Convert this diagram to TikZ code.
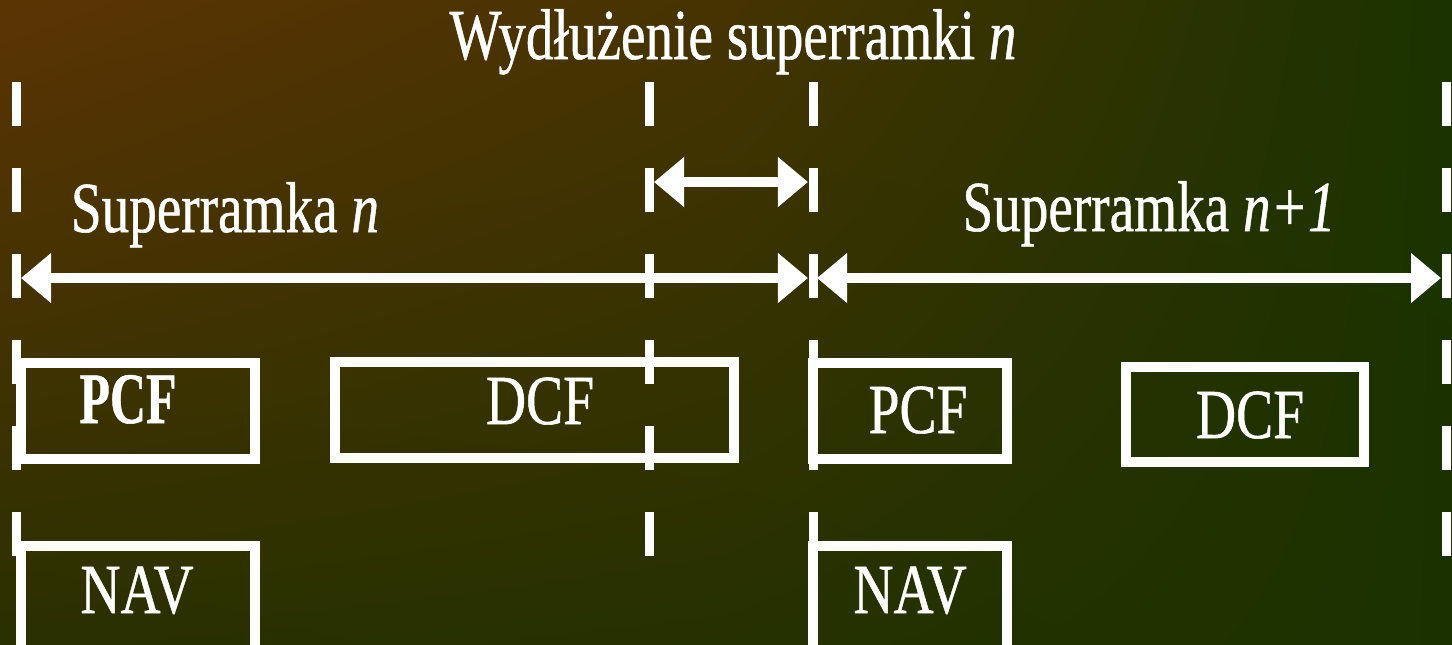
\documentclass[tikz,border=0pt]{standalone}
\usepackage{fontspec}
\setmainfont{Liberation Serif}[FakeBold=0.8]
\usetikzlibrary{arrows.meta,shadings}
\definecolor{tloA}{RGB}{92,52,4}
\definecolor{tloB}{RGB}{26,51,0}
\definecolor{tloC}{RGB}{42,48,0}
\definecolor{tloD}{RGB}{27,50,0}
\definecolor{tloM}{RGB}{70,51,2}
\definecolor{tloN}{RGB}{38,49,0}
\newcommand{\napis}[1]{{\fontsize{15.7pt}{18pt}\selectfont\scalebox{1}[1.3]{#1}}}
\newcommand{\etyk}[1]{{\fontsize{20pt}{24pt}\selectfont\scalebox{0.79}[1]{#1}}}
\begin{document}
\begin{tikzpicture}[x=0.01cm, y=-0.01cm, line width=0.1cm, white,
	ramka/.style={draw, inner sep=0pt},
	wymiar/.style={{Triangle[length=0.3cm,width=0.48cm]}-{Triangle[length=0.3cm,width=0.48cm]}},
	kreska/.style={line width=0.09cm, dash pattern=on 0.44cm off 0.42cm}]
	\clip (0,0) rectangle (1452,644);
	% tlo
	\shade[upper left=tloA, upper right=tloM, lower left=tloC, lower right=tloN] (0,0) rectangle (727,644);
	\shade[upper left=tloM, upper right=tloB, lower left=tloN, lower right=tloD] (726,0) rectangle (1452,644);
	% granice superramek
	\foreach \x/\n in {16.5/g1, 649.5/g2, 813/g3, 1446.5/g4}{
		\coordinate (\n a) at (\x,82);
		\coordinate (\n b) at (\x,556);
		\draw[kreska] (\n a) -- (\n b);
	}
	% strzalki
	\coordinate (s1l) at (21,278);
	\coordinate (s1p) at (808,278);
	\coordinate (s2l) at (817,278);
	\coordinate (s2p) at (1441,278);
	\coordinate (wl) at (654,182);
	\coordinate (wp) at (808,182);
	\draw[wymiar] (s1l) -- (s1p);
	\draw[wymiar] (s2l) -- (s2p);
	\draw[wymiar] (wl) -- (wp);
	% napisy
	\node[anchor=base, inner sep=0pt] (tytul) at (733,59) {\napis{Wydłużenie superramki \textit{n}}};
	\node[anchor=base, inner sep=0pt] (sn) at (225,232) {\napis{Superramka \textit{n}}};
	\node[anchor=base, inner sep=0pt] (sn1) at (1149,231) {\napis{Superramka \textit{n+1}}};
	% ramki PCF, DCF, NAV
	\node[ramka, minimum width=2.34cm, minimum height=0.955cm] (pcf1) at (138,410.75) {};
	\node[ramka, minimum width=3.985cm, minimum height=0.955cm] (dcf1) at (534.75,410.25) {};
	\node[ramka, minimum width=1.93cm, minimum height=0.955cm] (pcf2) at (910,410.75) {};
	\node[ramka, minimum width=2.37cm, minimum height=0.945cm] (dcf2) at (1245,414.75) {};
	\node[ramka, minimum width=2.34cm, minimum height=1.2cm] (nav1) at (138,606) {};
	\node[ramka, minimum width=1.93cm, minimum height=1.2cm] (nav2) at (910,606) {};
	\node[anchor=base, inner sep=0pt] (pcf1t) at (128,423) {{\fontsize{20.6pt}{24pt}\selectfont\bfseries\scalebox{0.69}[1]{PCF}}};
	\node[anchor=base, inner sep=0pt] (dcf1t) at (540,424) {\etyk{DCF}};
	\node[anchor=base, inner sep=0pt] (pcf2t) at (918,433) {\etyk{PCF}};
	\node[anchor=base, inner sep=0pt] (dcf2t) at (1250,438) {\etyk{DCF}};
	\node[anchor=base, inner sep=0pt] (nav1t) at (137,613) {\etyk{NAV}};
	\node[anchor=base, inner sep=0pt] (nav2t) at (910,613) {\etyk{NAV}};
\end{tikzpicture}
\end{document}
